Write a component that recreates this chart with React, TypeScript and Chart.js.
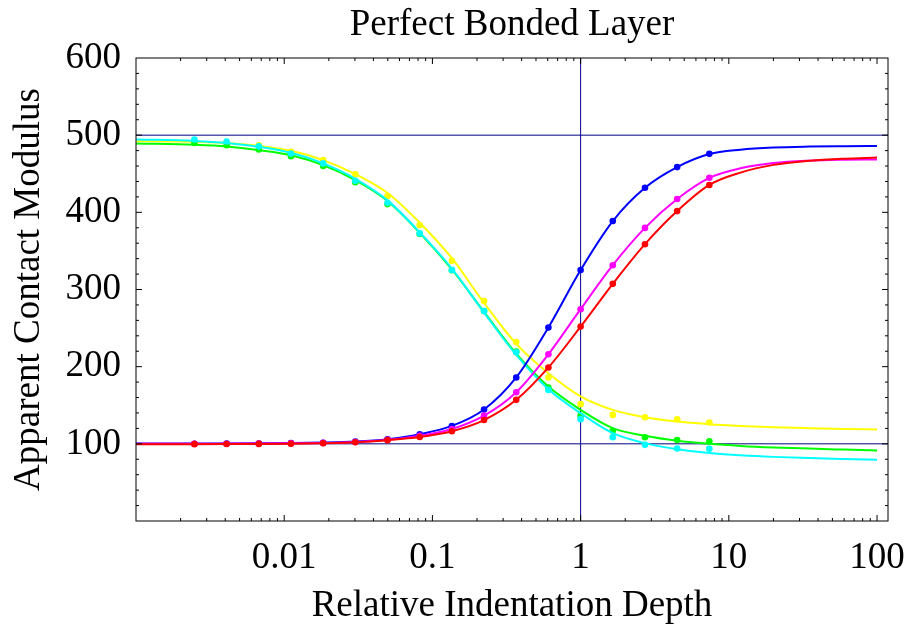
import React, { useEffect, useRef } from 'react';
import { Chart, registerables } from 'chart.js';

Chart.register(...registerables);

// Measured sample depths (e^-6 ... e^2)
const POINT_X = [
  0.002479, 0.004087, 0.006738, 0.011109, 0.018316, 0.030197, 0.049787, 0.082085,
  0.135335, 0.22313, 0.367879, 0.606531, 1, 1.648721, 2.718282, 4.481689, 7.389056,
];
// Depths at which the fitted curves are tabulated
const FIT_X = [0.001, ...POINT_X, 12, 20, 35, 60, 100];

// Measured moduli — rising series (stiff substrate)
const BLUE_PTS = [100.2, 100.3, 100.5, 100.9, 101.5, 102.8, 106, 112.5, 123.2, 144.5, 186, 250.8, 325.2, 388.7, 431.8, 458.6, 475.8];
const MAGENTA_PTS = [100.1, 100.2, 100.4, 100.7, 101.2, 102.4, 105.3, 110.5, 119.2, 136.5, 166.9, 216.1, 274.5, 331.5, 379.8, 417.2, 444.8];
const RED_PTS = [99.6, 99.7, 99.9, 100.2, 100.8, 102, 104.8, 108.9, 116.4, 130.8, 157, 199, 251.9, 307.3, 358.7, 401.6, 435.5];
// Measured moduli — falling series (soft substrate)
const YELLOW_PTS = [492.5, 490.5, 487, 478.4, 467.6, 449.3, 421, 383.5, 337.3, 285.1, 232, 185.9, 151.4, 137.5, 134.5, 131.9, 127.6];
const GREEN_PTS = [490, 487, 481.5, 472.8, 460, 439, 410.7, 372, 325, 272, 219.5, 172.9, 136.2, 116.8, 108.6, 105, 103.4];
const CYAN_PTS = [494.4, 491.8, 485.5, 476.3, 463.4, 441, 412.4, 372.7, 325.2, 272.2, 218.7, 169.9, 132, 108.6, 98.7, 93.9, 93.5];

// Fitted curves, tabulated at FIT_X
const BLUE_FIT = [100.3, 100.4, 100.5, 100.7, 101, 101.6, 102.9, 106, 112.5, 123.2, 144.5, 186, 250.8, 325.2, 388.7, 431.8, 458.6, 475.5, 481.2, 484, 485.2, 485.7, 486];
const MAGENTA_FIT = [100.2, 100.2, 100.3, 100.4, 100.6, 101.1, 102.3, 105.2, 110.5, 119.2, 136.5, 166.9, 216.1, 274.5, 331.5, 379.8, 417.2, 444.6, 457, 463.8, 466.9, 468.1, 468.6];
const RED_FIT = [99.6, 99.6, 99.7, 99.9, 100.2, 100.8, 102, 104.8, 108.9, 116.4, 130.8, 157, 199, 251.9, 307.3, 358.7, 401.6, 435.5, 451.5, 461.5, 466.8, 469.5, 471];
const YELLOW_FIT = [492.2, 491.4, 490, 486.2, 479.7, 467.6, 449.5, 425, 386.6, 340.5, 282.5, 229.5, 191.5, 161.5, 144, 134.5, 128.9, 125.5, 123.2, 121.4, 120.2, 119.3, 118.6];
const GREEN_FIT = [489.3, 487.5, 485.3, 480.6, 474.1, 461.2, 441.7, 414.6, 373.5, 326, 271, 217, 174.2, 144, 120.3, 110.4, 103.9, 100, 97.3, 95.3, 93.8, 92.5, 91.3];
const CYAN_FIT = [494.4, 492.6, 490, 484.9, 477.1, 463.4, 443.5, 415.5, 374, 327, 270, 215.2, 170.8, 139.7, 113.8, 100.9, 93.1, 88, 85.2, 83.1, 81.5, 80.3, 79.3];

// Axes
const X_MIN = 0.001;
const X_MAX = 118.6;
const Y_MIN = 0;
const Y_MAX = 600;
const X_TICKS = [0.01, 0.1, 1, 10, 100];
const X_TICK_LABELS = ['0.01', '0.1', '1', '10', '100'];
const Y_TICKS = [100, 200, 300, 400, 500, 600];
const X_DECADES = [0.001, 0.01, 0.1, 1, 10, 100];
const Y_MINOR_STEP = 20;

// Reference levels: film / substrate moduli and unit depth
const REF_Y = [500, 100];
const REF_X = 1;

const FONT = 'Liberation Serif';

const zip = (xs: number[], ys: number[]) => ys.map((y, i) => ({ x: xs[i], y }));

// Frame with inward ticks on all four sides
const frameTicks = {
  id: 'frameTicks',
  afterDatasetsDraw(chart: any) {
    const { ctx, chartArea: a, scales } = chart;
    const xs = scales.x;
    const ys = scales.y;
    ctx.save();
    ctx.strokeStyle = '#000';
    ctx.lineWidth = 1;
    ctx.strokeRect(a.left, a.top, a.right - a.left, a.bottom - a.top);
    ctx.beginPath();
    for (let v = Y_MIN + Y_MINOR_STEP; v < Y_MAX; v += Y_MINOR_STEP) {
      const py = ys.getPixelForValue(v);
      const len = v % 100 === 0 ? 6 : 3;
      ctx.moveTo(a.left, py);
      ctx.lineTo(a.left + len, py);
      ctx.moveTo(a.right, py);
      ctx.lineTo(a.right - len, py);
    }
    for (const d of X_DECADES) {
      for (let m = 1; m <= 9; m++) {
        const v = d * m;
        if (v <= X_MIN || v >= X_MAX) continue;
        const px = xs.getPixelForValue(v);
        const len = m === 1 ? 6 : 3;
        ctx.moveTo(px, a.bottom);
        ctx.lineTo(px, a.bottom - len);
        ctx.moveTo(px, a.top);
        ctx.lineTo(px, a.top + len);
      }
    }
    ctx.stroke();
    ctx.restore();
  },
};

type Series = { fit: number[]; pts: number[]; color: string };
const SERIES: Series[] = [
  { fit: YELLOW_FIT, pts: YELLOW_PTS, color: '#ffff00' },
  { fit: GREEN_FIT, pts: GREEN_PTS, color: '#00ff00' },
  { fit: CYAN_FIT, pts: CYAN_PTS, color: '#00ffff' },
  { fit: BLUE_FIT, pts: BLUE_PTS, color: '#0000ff' },
  { fit: MAGENTA_FIT, pts: MAGENTA_PTS, color: '#ff00ff' },
  { fit: RED_FIT, pts: RED_PTS, color: '#ff0000' },
];

export default function App() {
  const canvasRef = useRef<HTMLCanvasElement | null>(null);

  useEffect(() => {
    if (!canvasRef.current) return;
    const datasets: any[] = [];
    REF_Y.forEach((v) => {
      datasets.push({
        data: [{ x: X_MIN, y: v }, { x: X_MAX, y: v }],
        borderColor: '#000080',
        borderWidth: 1,
        pointRadius: 0,
        order: 200,
      });
    });
    datasets.push({
      data: [{ x: REF_X, y: Y_MIN }, { x: REF_X, y: Y_MAX }],
      borderColor: '#000090',
      borderWidth: 1,
      pointRadius: 0,
      order: 200,
    });
    SERIES.forEach((s, i) => {
      const base = 100 - i * 10;
      datasets.push({
        data: zip(FIT_X, s.fit),
        borderColor: s.color,
        borderWidth: 2,
        pointRadius: 0,
        cubicInterpolationMode: 'monotone',
        order: base,
      });
      datasets.push({
        data: zip(POINT_X, s.pts),
        showLine: false,
        pointRadius: 3.3,
        pointBorderWidth: 0,
        pointBackgroundColor: s.color,
        borderColor: s.color,
        order: base - 1,
      });
    });

    const tickFont = { family: FONT, size: 37, lineHeight: 1 };
    const chart = new Chart(canvasRef.current, {
      type: 'line',
      data: { datasets },
      options: {
        animation: false,
        responsive: false,
        devicePixelRatio: 1,
        layout: { padding: { left: 0, right: 19, top: 0, bottom: 0 } },
        plugins: {
          legend: { display: false },
          tooltip: { enabled: false },
          title: {
            display: true,
            text: 'Perfect Bonded Layer',
            color: '#000',
            fullSize: false,
            font: { family: FONT, size: 37, weight: 'normal', lineHeight: 1 },
            padding: { top: 6.5, bottom: 14.5 },
          },
        },
        scales: {
          x: {
            type: 'logarithmic',
            min: X_MIN,
            max: X_MAX,
            afterFit: (s: any) => {
              s.height = 105;
              s.paddingLeft = 0;
              s.paddingRight = 0;
            },
            afterBuildTicks: (s: any) => { s.ticks = X_TICKS.map((v) => ({ value: v })); },
            ticks: {
              autoSkip: false,
              maxRotation: 0,
              minRotation: 0,
              padding: 19,
              color: '#000',
              font: tickFont,
              callback: (_v: any, i: number) => X_TICK_LABELS[i],
            },
            grid: { display: false, drawTicks: false },
            border: { display: false },
            title: {
              display: true,
              text: 'Relative Indentation Depth',
              color: '#000',
              font: tickFont,
              padding: { top: 0, bottom: 1 },
            },
          },
          y: {
            type: 'linear',
            min: Y_MIN,
            max: Y_MAX,
            afterFit: (s: any) => {
              s.width = 136;
              s.paddingTop = 0;
              s.paddingBottom = 0;
            },
            afterBuildTicks: (s: any) => { s.ticks = Y_TICKS.map((v) => ({ value: v })); },
            ticks: { padding: 15, color: '#000', font: tickFont },
            grid: { display: false, drawTicks: false },
            border: { display: false },
            title: {
              display: true,
              text: 'Apparent Contact Modulus',
              color: '#000',
              font: tickFont,
              padding: { top: 10.5, bottom: 0 },
            },
          },
        },
      } as any,
      plugins: [frameTicks],
    });
    return () => chart.destroy();
  }, []);

  return (
    <div style={{ position: 'fixed', left: 0, top: 0, width: 907, height: 626, background: '#fff' }}>
      <canvas ref={canvasRef} width={907} height={626} style={{ display: 'block' }} />
    </div>
  );
}
